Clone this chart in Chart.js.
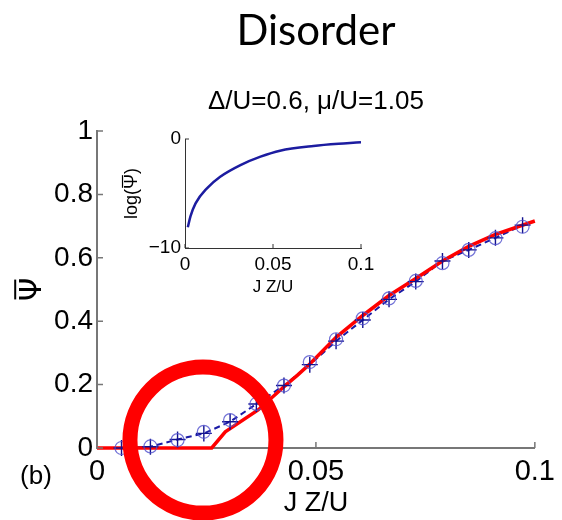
<!DOCTYPE html>
<html>
<head>
<meta charset="UTF-8">
<title>Disorder</title>
<script src="https://cdn.jsdelivr.net/npm/chart.js"></script>
<style>
  body { margin: 0; background: #fff; }
  #wrap { position: relative; width: 562px; height: 520px; }
  #main { position: absolute; left: 0; top: 0; }
  #inset { position: absolute; left: 100px; top: 120px; }
</style>
</head>
<body>
<div id="wrap">
  <canvas id="main" width="562" height="520"></canvas>
  <canvas id="inset" width="280" height="180"></canvas>
</div>
<script>
// main panel: red solid curve
const redX = [0, 0.0262, 0.0293, 0.0368, 0.0427, 0.0458, 0.0486, 0.0546, 0.0607, 0.0667, 0.0728, 0.0789, 0.0849, 0.0910, 0.1];
const redY = [0, 0, 0.051, 0.120, 0.193, 0.230, 0.265, 0.349, 0.418, 0.481, 0.535, 0.590, 0.636, 0.674, 0.716];

// open circles
const circX = [0.0056, 0.0122, 0.0184, 0.0244, 0.0304, 0.0364, 0.0427, 0.0486, 0.0546, 0.0607, 0.0667, 0.0728, 0.0789, 0.0849, 0.0910, 0.0972];
const circY = [0.000, 0.005, 0.025, 0.051, 0.088, 0.139, 0.197, 0.271, 0.343, 0.409, 0.472, 0.527, 0.583, 0.625, 0.662, 0.698];

// plus markers (same x as circles)
const plusY = [0.000, 0.004, 0.027, 0.046, 0.083, 0.139, 0.197, 0.263, 0.337, 0.404, 0.469, 0.525, 0.590, 0.625, 0.663, 0.703];

// dashed blue line (starts at the origin)
const dashX = [0].concat(circX);
const dashY = [0].concat(plusY);

// inset: log(psi) vs JZ/U
const insetX = [0.0016, 0.0031, 0.0060, 0.0126, 0.0200, 0.0315, 0.0429, 0.0540, 0.0730, 0.0920, 0.1];
const insetY = [-8.1, -7.1, -5.9, -4.5, -3.46, -2.39, -1.62, -1.07, -0.64, -0.39, -0.30];

// ticks
const xTicks = [0, 0.05, 0.1];
const xTickLabels = ['0', '0.05', '0.1'];
const yTicks = [0, 0.2, 0.4, 0.6, 0.8, 1];
const yTickLabels = ['0', '0.2', '0.4', '0.6', '0.8', '1'];
const insetYTicks = [-10, 0];
const insetYTickLabels = ['\u221210', '0'];

const pts = (xs, ys) => xs.map((x, i) => ({ x: x, y: ys[i] }));
const FONT = '"Liberation Sans", Arial, sans-serif';

// tick marks pointing into the plot
const inwardTicks = {
  id: 'inwardTicks',
  afterDraw(chart, args, opts) {
    const { ctx, chartArea: a, scales: { x, y } } = chart;
    ctx.save();
    ctx.strokeStyle = opts.color;
    ctx.lineWidth = opts.width;
    ctx.beginPath();
    x.ticks.forEach(t => {
      const px = x.getPixelForValue(t.value);
      ctx.moveTo(px, a.bottom);
      ctx.lineTo(px, a.bottom - opts.len);
    });
    y.ticks.forEach(t => {
      const py = y.getPixelForValue(t.value);
      ctx.moveTo(a.left, py);
      ctx.lineTo(a.left + opts.len, py);
    });
    ctx.stroke();
    ctx.restore();
  }
};

// rotated y label with an overbar on one character (psi bar)
const barLabel = {
  id: 'barLabel',
  afterDraw(chart, args, o) {
    const { ctx, chartArea: a } = chart;
    ctx.save();
    ctx.translate(o.x, (a.top + a.bottom) / 2);
    ctx.rotate(-Math.PI / 2);
    ctx.font = o.size + 'px ' + o.family;
    ctx.fillStyle = '#000';
    ctx.textAlign = 'left';
    ctx.textBaseline = 'alphabetic';
    const w = ctx.measureText(o.text).width;
    const pre = ctx.measureText(o.text.slice(0, o.barAt)).width;
    const cw = ctx.measureText(o.text[o.barAt]).width;
    const base = o.size * 0.36;
    ctx.fillText(o.text, -w / 2, base);
    ctx.strokeStyle = '#000';
    ctx.lineWidth = o.barWidth;
    ctx.beginPath();
    const by = base - o.size * 0.72 - o.gap;
    ctx.moveTo(-w / 2 + pre + cw * 0.08, by);
    ctx.lineTo(-w / 2 + pre + cw * 0.92, by);
    ctx.stroke();
    ctx.restore();
  }
};

// red ring highlight and panel letter
const marks = {
  id: 'marks',
  afterDraw(chart) {
    const { ctx, scales: { x, y } } = chart;
    ctx.save();
    ctx.strokeStyle = '#ff0000';
    ctx.lineWidth = 15;
    ctx.beginPath();
    ctx.arc(x.getPixelForValue(0.0242), y.getPixelForValue(0.025), 73, 0, Math.PI * 2);
    ctx.stroke();
    ctx.fillStyle = '#000';
    ctx.font = '26px ' + FONT;
    ctx.textAlign = 'center';
    ctx.textBaseline = 'middle';
    ctx.fillText('(b)', 36, 477);
    ctx.restore();
  }
};

new Chart(document.getElementById('main'), {
  type: 'scatter',
  data: {
    datasets: [
      {
        data: pts(circX, circY),
        showLine: false,
        pointStyle: 'circle',
        pointRadius: 6.5,
        borderColor: 'rgba(80,80,205,0.8)',
        backgroundColor: 'rgba(0,0,0,0)',
        borderWidth: 1.2,
        clip: false,
        order: 0
      },
      {
        data: pts(circX, plusY),
        showLine: false,
        pointStyle: 'cross',
        pointRadius: 8,
        borderColor: '#12128f',
        borderWidth: 1.4,
        clip: false,
        order: 1
      },
      {
        data: pts(redX, redY),
        showLine: true,
        borderColor: '#ff0000',
        borderWidth: 3.5,
        pointRadius: 0,
        tension: 0,
        clip: false,
        order: 2
      },
      {
        data: pts(dashX, dashY),
        showLine: true,
        borderColor: '#1a1aa6',
        borderWidth: 2,
        borderDash: [6, 4],
        pointRadius: 0,
        tension: 0,
        clip: false,
        order: 3
      }
    ]
  },
  options: {
    responsive: false,
    animation: false,
    devicePixelRatio: 1,
    layout: { padding: { left: 0, right: 22, top: 0, bottom: 0 } },
    plugins: {
      legend: { display: false },
      tooltip: { enabled: false },
      title: {
        display: true,
        fullSize: false,
        text: 'Disorder',
        color: '#000',
        font: { family: 'Lato, "Open Sans", sans-serif', size: 42, weight: 'normal' },
        padding: { top: 6, bottom: 30 }
      },
      subtitle: {
        display: true,
        fullSize: false,
        text: '\u0394/U=0.6, \u03bc/U=1.05',
        color: '#000',
        font: { family: FONT, size: 26 },
        padding: { top: 0, bottom: 13.4 }
      },
      inwardTicks: { color: '#777', width: 1.5, len: 6 },
      barLabel: { text: '\u03a8', barAt: 0, x: 30, size: 30, family: '"DejaVu Sans", sans-serif', gap: 4, barWidth: 2 }
    },
    scales: {
      x: {
        type: 'linear',
        min: 0,
        max: 0.1,
        afterBuildTicks: s => { s.ticks = xTicks.map(v => ({ value: v })); },
        afterFit: s => { s.height = 72; },
        grid: { display: false, drawTicks: false },
        border: { display: true, color: '#777', width: 2 },
        ticks: {
          autoSkip: false,
          maxRotation: 0,
          padding: 7,
          color: '#000',
          font: { family: FONT, size: 29 },
          callback: (v, i) => xTickLabels[i]
        },
        title: {
          display: true,
          text: 'J Z/U',
          color: '#000',
          font: { family: FONT, size: 27 },
          padding: { top: 0, bottom: 0 }
        }
      },
      y: {
        type: 'linear',
        min: 0,
        max: 1,
        afterBuildTicks: s => { s.ticks = yTicks.map(v => ({ value: v })); },
        afterFit: s => { s.width = 97; },
        grid: { display: false, drawTicks: false },
        border: { display: true, color: '#777', width: 2 },
        ticks: {
          autoSkip: false,
          padding: 4,
          color: '#000',
          font: { family: FONT, size: 28 },
          callback: (v, i) => yTickLabels[i]
        }
      }
    }
  },
  plugins: [inwardTicks, barLabel, marks]
});

new Chart(document.getElementById('inset'), {
  type: 'scatter',
  data: {
    datasets: [{
      data: pts(insetX, insetY),
      showLine: true,
      borderColor: '#1c1ca0',
      borderWidth: 2.5,
      pointRadius: 0,
      cubicInterpolationMode: 'monotone',
      clip: false
    }]
  },
  options: {
    responsive: false,
    animation: false,
    devicePixelRatio: 1,
    layout: { padding: { left: 0, right: 19, top: 19, bottom: 0 } },
    plugins: {
      legend: { display: false },
      tooltip: { enabled: false },
      inwardTicks: { color: '#333', width: 1, len: 4 },
      barLabel: { text: 'log(\u03a8)', barAt: 4, x: 31, size: 18, family: FONT, gap: 2, barWidth: 1.2 }
    },
    scales: {
      x: {
        type: 'linear',
        min: 0,
        max: 0.1,
        afterBuildTicks: s => { s.ticks = xTicks.map(v => ({ value: v })); },
        afterFit: s => { s.height = 52; },
        grid: { display: false, drawTicks: false },
        border: { display: true, color: '#333', width: 1 },
        ticks: {
          autoSkip: false,
          maxRotation: 0,
          padding: 5,
          color: '#000',
          font: { family: FONT, size: 19 },
          callback: (v, i) => xTickLabels[i]
        },
        title: {
          display: true,
          text: 'J Z/U',
          color: '#000',
          font: { family: FONT, size: 17 },
          padding: { top: 0, bottom: 2 }
        }
      },
      y: {
        type: 'linear',
        min: -10,
        max: 0,
        afterBuildTicks: s => { s.ticks = insetYTicks.map(v => ({ value: v })); },
        afterFit: s => { s.width = 85; },
        grid: { display: false, drawTicks: false },
        border: { display: true, color: '#333', width: 1 },
        ticks: {
          autoSkip: false,
          padding: 4,
          color: '#000',
          font: { family: FONT, size: 19 },
          callback: (v, i) => insetYTickLabels[i]
        }
      }
    }
  },
  plugins: [inwardTicks, barLabel]
});
</script>
</body>
</html>
